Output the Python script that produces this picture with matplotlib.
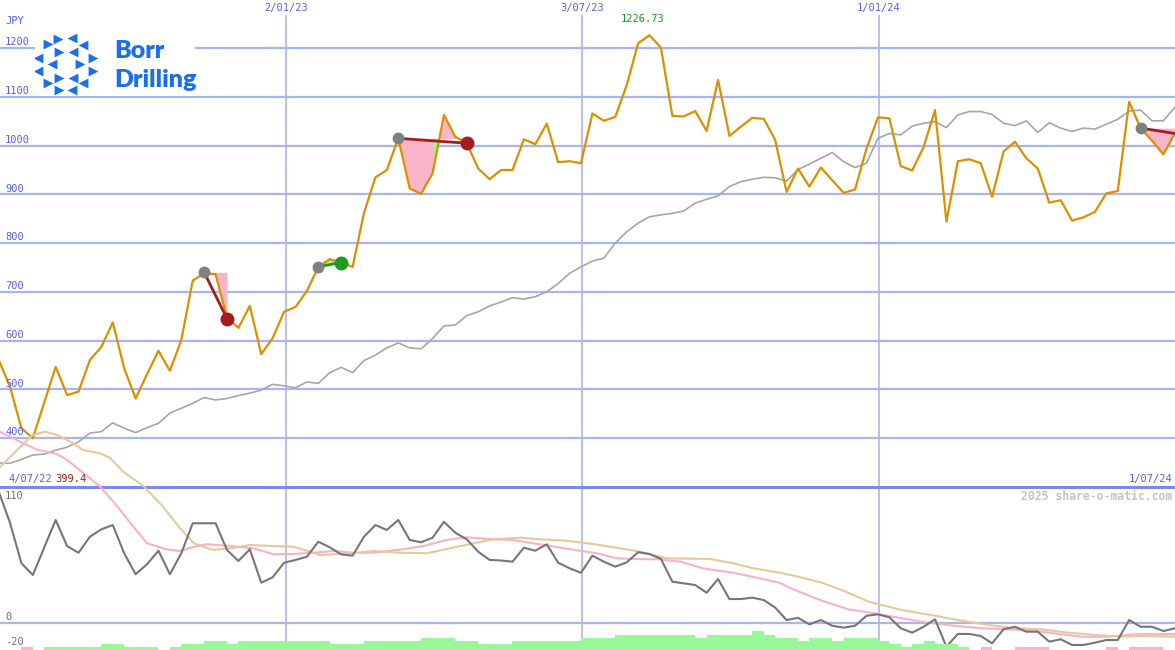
import matplotlib
matplotlib.use('Agg')
import matplotlib.pyplot as plt
import matplotlib.transforms as mtransforms
import numpy as np

W, H = 1175, 650

# ---------------- data ----------------
weeks = list(range(-1, 103))
price = [561, 505, 420, 399.4, 473, 546, 488, 495, 560, 587,
         637, 543, 481, 531, 579, 538, 601, 723, 738, 736,
         647, 626, 671, 572, 605, 659, 669, 702, 751, 767,
         760, 751, 862, 935, 950, 1015, 912, 901, 943, 1063,
         1018, 1005, 953, 931, 950, 950, 1013, 1003, 1045, 966,
         968, 964, 1066, 1051, 1059, 1124, 1210, 1226.73, 1201, 1061,
         1060, 1071, 1030, 1135, 1020, 1039, 1057, 1055, 1012, 905,
         953, 916, 955, 929, 903, 910, 994, 1058, 1056, 958,
         949, 997, 1073, 844, 968, 972, 964, 895, 988, 1008,
         974, 953, 883, 888, 846, 853, 864, 902, 907, 1090,
         1036, 1010, 982, 1025]
ma_gray = [348.6, 348, 356, 365, 367, 375, 381, 392, 410, 413,
           431, 420, 411, 421, 430, 451, 461, 471, 483, 478,
           481, 487, 492, 498, 510, 507, 503, 515, 512, 534,
           545, 534, 559, 570, 585, 595, 585, 583, 604, 630,
           632, 651, 659, 671, 679, 688, 685, 690, 700, 717,
           738, 751, 763, 769, 800, 823, 841, 854, 858, 861,
           866, 882, 890, 897, 916, 926, 931, 935, 934, 927,
           951, 962, 974, 986, 967, 955, 964, 1015, 1025, 1022,
           1040, 1046, 1049, 1037, 1063, 1070, 1070, 1064, 1046, 1041,
           1051, 1027, 1047, 1036, 1029, 1036, 1034, 1044, 1054, 1071,
           1073, 1051, 1051, 1079]
osc = [104, 79, 47, 37.7, 59.5, 81.2, 60.6, 55.3, 68, 73.8,
       77.2, 54.9, 38.3, 46.2, 56.9, 38.3, 54.9, 78.6, 78.6, 78.6,
       57.5, 48.8, 58, 31.6, 35.9, 47.4, 49.6, 52.2, 64, 59.6,
       54, 53, 68, 77.2, 73.3, 81.2, 65.4, 63.6, 67.2, 79.8,
       71.1, 65.9, 56.1, 49.6, 49.2, 48.2, 59.3, 56.9, 62, 47.4,
       43, 39.5, 53, 48.2, 44.3, 47.7, 55.7, 54.3, 50.4, 32.4,
       31.1, 29.8, 23.7, 34.5, 18.7, 18.7, 19.8, 17.9, 12, 2.1,
       3.9, -1.3, 2.1, -2.4, -3.9, -2.4, 5.5, 6.6, 4.3, -4.4,
       -7.9, -3.2, 2.7, -19, -8.9, -8.9, -10.5, -16.3, -5.2, -3.2,
       -7.1, -7.1, -15, -13.1, -17.6, -17.6, -15.8, -13.7, -13.7, 2.1,
       -3.2, -3.2, -6.6, -4.4]
pink_k = [-0.9, 0.9, 2.3, 4.1, 5.0, 6.1, 7.9, 9.3, 10.8, 12.0, 13.7, 14.9, 16.1,
          17.2, 19.0, 21.3, 23.1, 24.8, 26.6, 28.3, 30.1, 31.8, 34.2, 36.2, 38.2,
          40.0, 42.3, 44.1, 45.8, 48.2, 49.9, 51.4, 53.1, 54.6, 56.9, 58.7, 60.7,
          63.3, 65.4, 67.4, 68.7, 71.1, 73.4, 75.7, 78.1, 80.4, 82.7, 85.1, 87.4,
          89.8, 91.8, 93.8, 96.2, 98.5, 102.0]
pink_v = [151, 143, 137, 133.4, 128.6, 120.7, 107.5, 93, 75.9, 62.8, 58, 56.7, 60,
          62, 60.9, 58.8, 54.1, 54.3, 55.3, 56.7, 55.3, 55.3, 57.8, 60.6, 65.4,
          67.5, 65.9, 65.4, 62.8, 59.3, 56.9, 54.9, 50.9, 50.4, 50.1, 48.2, 43,
          39.5, 35.6, 31.5, 25.9, 17.4, 10.6, 7.4, 3.5, 0, -2.4, -4.4, -5.2,
          -6.6, -8.9, -11.1, -11.1, -9.2, -8.9]
tan_k = [-0.9, 0.9, 2.0, 3.1, 4.1, 5.3, 6.4, 7.9, 8.8, 9.9, 11.7, 13.4, 14.9, 16.1,
         17.8, 19.3, 21.0, 23.1, 24.8, 26.3, 27.1, 29.8, 31.8, 34.2, 36.5, 38.5,
         40.6, 42.3, 44.7, 46.4, 48.7, 51.1, 53.4, 55.2, 57.5, 61.3, 63.3, 65.1,
         67.4, 69.0, 71.1, 72.8, 75.2, 78.1, 81.0, 83.3, 85.7, 88.0, 90.3, 92.7,
         95.0, 97.4, 99.1, 102.0]
tan_v = [122.8, 139, 148.4, 151, 148.4, 143, 136.5, 133.9, 130, 119.4, 108, 91.7,
         74.6, 62.8, 57.5, 58.8, 61.4, 60.6, 60, 56.1, 53.5, 54.9, 56.7, 55.3,
         54.9, 58.8, 62.8, 65.9, 67.2, 65.9, 64.8, 62.2, 58.8, 56.1, 50.9, 50.4,
         47, 43, 39.5, 36.4, 31.6, 25.9, 16.6, 10, 5.5, 1.6, -1.8, -4.4, -5.2,
         -7.9, -9.7, -11.1, -10.5, -11.1]
vol_k = list(range(0, 102))
vol_lvl = [0, -1, 0, 1, 1, 1, 1, 1, 2, 2,
           1, 1, 1, 0, 1, 2, 2, 3, 3, 2,
           3, 3, 3, 3, 3, 3, 3, 3, 2, 2,
           2, 3, 3, 3, 3, 3, 4, 4, 4, 3,
           3, 2, 2, 2, 3, 3, 3, 3, 3, 3,
           4, 4, 4, 5, 5, 5, 5, 5, 5, 5,
           4, 5, 5, 5, 5, 6, 5, 4, 4, 3,
           4, 4, 3, 4, 4, 4, 3, 2, 1, 2,
           3, 2, 2, 1, 0, -1, 0, 0, -1, -1,
           -1, 0, 0, 0, 0, 0, -1, 0, -1, -1,
           -1, 0]
price_ticks = [400, 500, 600, 700, 800, 900, 1000, 1100, 1200]
date_labels = ['2/01/23', '3/07/23', '1/01/24']
date_pos = [24.2, 50.1, 76.1]
# trades: entry week, entry level, exit week, exit level, result
trades = [(17, 740, 19, 645, 'loss'),
          (27, 751.5, 29, 760, 'win'),
          (34, 1015, 40, 1005, 'loss'),
          (99, 1036, 102, 1025, 'open')]
low_label = '399.4'
high_label = '1226.73'
start_label, end_label = '4/07/22', '1/07/24'

# ---------------- style ----------------
BLUE_TXT = '#5262ea'
GRID = '#a9b5f2'
SEP = '#7b88ee'
ORANGE = '#dc9000'
GRAYMA = '#a6a6a6'
OSC = '#767676'
PINK = '#f9b1c9'
TAN = '#e6c99b'
FILL_PINK = '#f8b4c8'
FILL_GREEN = '#98f898'
DRED = '#a51c1c'
DGREEN = '#1f9a1f'
MONO = 'DejaVu Sans Mono'

fig = plt.figure(figsize=(W / 100, H / 100), dpi=100)
fig.patch.set_facecolor('white')

sep_px = 487
ax = fig.add_axes([0, (H - sep_px) / H, 1, sep_px / H])
axb = fig.add_axes([0, 0, 1, (H - sep_px) / H])

xl = ((0 - 10) / 11.42, (W - 10) / 11.42)
for a in (ax, axb):
    a.set_xlim(*xl)
    a.set_xticks([])
    a.set_yticks([])
    for s in a.spines.values():
        s.set_visible(False)
    a.set_facecolor('none')

ax.set_ylim(1200 - (sep_px - 48.2) / 0.4872, 1200 + 48.2 / 0.4872)
axb.set_ylim((622.7 - H) / 1.265, (622.7 - sep_px) / 1.265)

# grid
for v in price_ticks:
    ax.axhline(v, color=GRID, lw=1.6, zorder=1)
for p in date_pos:
    ax.axvline(p, ymin=0, ymax=(sep_px - 16) / sep_px, color=GRID, lw=1.2, zorder=1)
    axb.axvline(p, color=GRID, lw=1.2, zorder=1)
axb.axhline(0, color=GRID, lw=1.6, zorder=1)
axb.axhline(axb.get_ylim()[1], color=SEP, lw=2.2, zorder=1, clip_on=False)

# price and average
ax.plot(weeks, ma_gray, color=GRAYMA, lw=1.2, zorder=3)

wk = np.array(weeks, dtype=float)
pr = np.array(price, dtype=float)
for (e, lv_e, x, lv_x, res) in trades:
    sel = (wk >= e) & (wk <= x)
    xs, ys = wk[sel], pr[sel]
    if res == 'win':
        line = np.interp(xs, [e, x], [lv_e, lv_x])
        ax.fill_between(xs, line, ys, color=FILL_GREEN, lw=0, zorder=2)
        ax.plot([e, x], [lv_e, lv_x], color=DGREEN, lw=2, zorder=5)
    else:
        ax.fill_between(xs, lv_e, ys, color=FILL_PINK, lw=0, zorder=2)
        ax.plot([e, x], [lv_e, lv_x], color=DRED, lw=2, zorder=5)
        if res == 'loss' and x - e > 3:
            seg = (xs >= 37) & (xs <= 38)
            ax.fill_between(xs[seg], lv_e, ys[seg], where=ys[seg] < lv_e,
                            interpolate=True, color=FILL_GREEN, lw=0, zorder=2)

ax.plot(weeks, price, color=ORANGE, lw=1.6, zorder=4)

for (e, lv_e, x, lv_x, res) in trades:
    ax.plot([e], [lv_e], 'o', ms=7.5, color='#808080', zorder=6)
    if res == 'loss':
        ax.plot([x], [lv_x], 'o', ms=9, color=DRED, zorder=6)
    elif res == 'win':
        ax.plot([x], [lv_x], 'o', ms=9, color=DGREEN, zorder=6)

# lower panel
axb.plot(pink_k, pink_v, color=PINK, lw=1.5, zorder=3, clip_on=False)
axb.plot(tan_k, tan_v, color=TAN, lw=1.5, zorder=3, clip_on=False)
axb.plot(weeks, osc, color=OSC, lw=1.5, zorder=4)

axv = fig.add_axes([0, 0, 1, 20 / H])
axv.set_xlim(*xl)
axv.set_ylim(0, 20 / 3.1)
axv.axis('off')
axv.patch.set_alpha(0)
vl = np.array(vol_lvl)
axv.bar(vol_k, np.abs(vl), width=1.0, align='edge',
        color=[FILL_GREEN if v > 0 else FILL_PINK for v in vl], lw=0)

# ---------------- texts ----------------
def px(x, y):
    return x / W, 1 - y / H

lab_tr = mtransforms.blended_transform_factory(ax.transAxes, ax.transData)
for v in price_ticks:
    ax.text(5 / W, v + 1.5, str(v), transform=lab_tr, fontsize=7.5, family=MONO,
            color=BLUE_TXT, va='bottom', ha='left', zorder=7)
fig.text(*px(5, 21), 'JPY', fontsize=7.5, family=MONO, color=BLUE_TXT, va='center')
for p, lab in zip(date_pos, date_labels):
    ax.text(p, 1 - 8 / sep_px, lab, transform=mtransforms.blended_transform_factory(
        ax.transData, ax.transAxes), fontsize=7.5, family=MONO, color=BLUE_TXT,
        ha='center', va='center')
ipk = int(np.argmax(pr))
ax.annotate(high_label, (wk[ipk], pr[ipk]), xytext=(-7, 16), textcoords='offset pixels',
            fontsize=7.5, family=MONO, color='#1f9a1f', ha='center', va='center')
fig.text(*px(8, 479), start_label, fontsize=7.5, family=MONO, color=BLUE_TXT, va='center')
fig.text(*px(55, 479), low_label, fontsize=7.5, family=MONO, color=DRED, va='center')
fig.text(*px(1172, 479), end_label, fontsize=7.5, family=MONO, color=BLUE_TXT,
         va='center', ha='right')
fig.text(*px(1172, 496), '2025 share-o-matic.com', fontsize=8.3, family=MONO,
         weight='bold', color='#c4c4c4', va='center', ha='right')
fig.text(*px(5, 496), '110', fontsize=7.5, family=MONO, color='#707070', va='center')
fig.text(*px(5, 617), '0', fontsize=7.5, family=MONO, color='#707070', va='center')
fig.text(*px(5, 642), '-20', fontsize=7.5, family=MONO, color='#707070', va='center')

# ---------------- logo ----------------
LOGO = '#1a6ef2'
axl = fig.add_axes([35 / W, 1 - 96 / H, 160 / W, 63 / H])
axl.set_xlim(35, 195)
axl.set_ylim(96, 33)
axl.axis('off')
axl.add_patch(plt.Rectangle((35, 33), 160, 63, color='white', zorder=0))
tri_r = [(58, 39), (48, 44), (59, 52), (93, 58), (80, 64), (93, 71), (59, 78), (48, 83), (59, 90)]
tri_l = [(72, 38), (83, 45), (73, 52), (38, 58), (52, 64), (38, 71), (73, 78), (83, 83), (72, 90)]
axl.scatter([p[0] for p in tri_r], [p[1] for p in tri_r], marker='>', s=50, color=LOGO, lw=0)
axl.scatter([p[0] for p in tri_l], [p[1] for p in tri_l], marker='<', s=50, color=LOGO, lw=0)
axl.text(114, 51, 'Borr', fontsize=18, family='Lato', weight='heavy', color=LOGO, va='center')
axl.text(114, 80, 'Drilling', fontsize=18, family='Lato', weight='heavy', color=LOGO, va='center')

fig.savefig('out.png', dpi=100, facecolor='white')
